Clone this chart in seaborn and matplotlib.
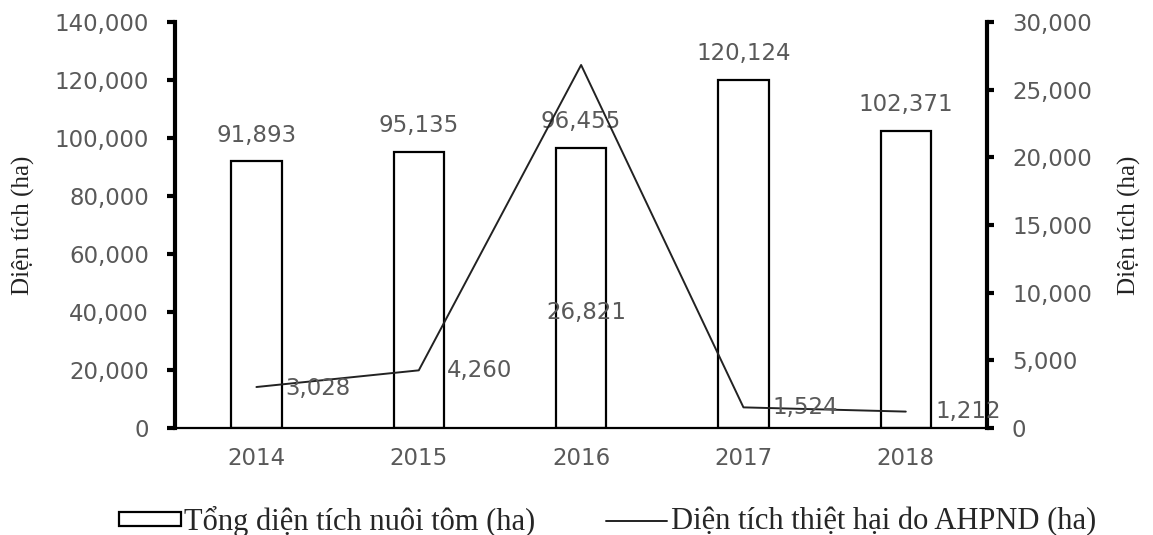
import numpy as np
import pandas as pd
import seaborn as sns
import matplotlib.pyplot as plt
from matplotlib.patches import Patch
from matplotlib.lines import Line2D
from matplotlib.ticker import FuncFormatter

# data
years = ['2014', '2015', '2016', '2017', '2018']
total_area = [91893, 95135, 96455, 120124, 102371]
damaged_area = [3028, 4260, 26821, 1524, 1212]

bar_label = 'Tổng diện tích nuôi tôm (ha)'
line_label = 'Diện tích thiệt hại do AHPND (ha)'
y_label = 'Diện tích (ha)'

# label nudges for the line values (points), as placed in the original
line_offsets = [(21, -1), (20, 0), (4, -178), (21, 0), (21, 0)]
line_ha = ['left', 'left', 'center', 'left', 'left']

df = pd.DataFrame({'year': years, 'total': total_area, 'damaged': damaged_area})
df['pos'] = np.arange(len(df))

sns.set_theme(style='white')
plt.rcParams['font.family'] = ['DejaVu Sans']
gray = '#595959'
serif = ['Liberation Serif', 'DejaVu Serif']
fs = 16.5

fig = plt.figure(figsize=(11.53, 5.35), dpi=100)
ax = fig.add_axes([0.152, 0.2, 0.704, 0.759])

sns.barplot(data=df, x='year', y='total', ax=ax, color='white', saturation=1,
            edgecolor='black', linewidth=1.6, width=0.31)
ax.set_xlim(-0.5, 4.5)
ax.set_ylim(0, 140000)
ax.set_yticks(np.arange(0, 140001, 20000))
fmt = FuncFormatter(lambda v, p: f'{int(v):,}')
ax.yaxis.set_major_formatter(fmt)

for i, v in enumerate(df['total']):
    ax.annotate(f'{v:,}', (i, v), xytext=(0, 19), textcoords='offset points',
                ha='center', va='center', fontsize=fs, color=gray)

ax2 = ax.twinx()
sns.lineplot(data=df, x='pos', y='damaged', ax=ax2, color='#222222', linewidth=1.4)
ax2.set_ylim(0, 30000)
ax2.set_yticks(np.arange(0, 30001, 5000))
ax2.yaxis.set_major_formatter(fmt)
ax2.set_xlim(-0.5, 4.5)

for i, v in enumerate(df['damaged']):
    dx, dy = line_offsets[i]
    ax2.annotate(f'{v:,}', (i, v), xytext=(dx, dy), textcoords='offset points',
                 ha=line_ha[i], va='center', fontsize=fs, color=gray)

for a in (ax, ax2):
    for s in a.spines.values():
        s.set_visible(False)
    a.set_xlabel('')
ax.spines['left'].set_visible(True)
ax.spines['left'].set_linewidth(3)
ax.spines['left'].set_color('black')
ax.spines['bottom'].set_visible(True)
ax.spines['bottom'].set_linewidth(1.6)
ax.spines['bottom'].set_color('black')
ax2.spines['right'].set_visible(True)
ax2.spines['right'].set_linewidth(3)
ax2.spines['right'].set_color('black')

ax.tick_params(axis='y', direction='out', length=6, width=3, color='black',
               pad=13, labelsize=fs, labelcolor=gray, left=True)
ax2.tick_params(axis='y', direction='out', length=5, width=3, color='black',
                pad=13, labelsize=fs, labelcolor=gray, right=True)
ax.tick_params(axis='x', length=0, pad=14, labelsize=fs, labelcolor=gray)

ax.set_ylabel(y_label, family=serif, fontsize=18, color='#222222', labelpad=14)
ax2.set_ylabel(y_label, family=serif, fontsize=18, color='#222222', labelpad=19)
ax2.grid(False)
ax.grid(False)

handles = [Patch(facecolor='white', edgecolor='black', linewidth=1.6),
           Line2D([], [], color='#222222', linewidth=1.4)]
fig.legend(handles, [bar_label, line_label], loc='center', bbox_to_anchor=(0.527, 0.026),
           ncol=2, frameon=False, prop={'family': serif, 'size': 22},
           handlelength=2.0, handleheight=0.33, handletextpad=0.12, columnspacing=2.3)

fig.savefig('out.png', dpi=100)
